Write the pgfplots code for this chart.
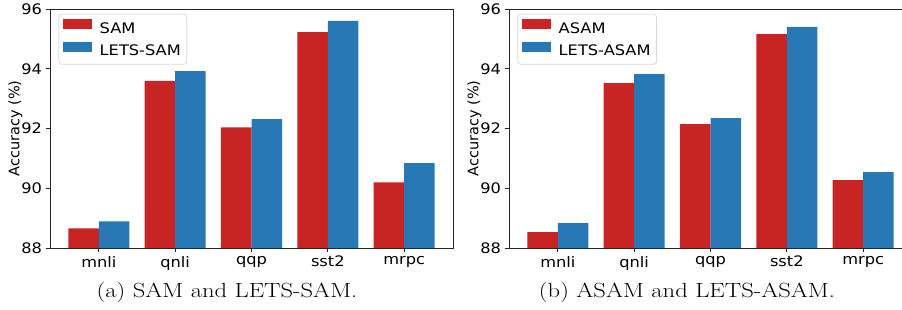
\documentclass[border=0pt]{standalone}
\usepackage{pgfplots}
\pgfplotsset{compat=1.18}
\usepackage{fontspec}
\newfontfamily\djv{DejaVu Sans}
\newfontfamily\djvw[FakeStretch=1.12]{DejaVu Sans}
\definecolor{cred}{HTML}{C82423}
\definecolor{cblue}{HTML}{2878B5}
\pgfplotsset{
  mybars/.style={
    scale only axis, width=403bp, height=239bp,
    ymin=88, ymax=96, ytick={88,90,...,96},
    xmin=-0.64, xmax=4.64,
    xtick={0,...,4}, xticklabels={mnli,qnli,qqp,sst2,mrpc},
    axis line style={black!85, line width=0.8pt},
    tick style={black!85, line width=0.8pt},
    major tick length=4.5bp,
    tick align=outside, xtick pos=bottom, ytick pos=left,
    font=\djvw\fontsize{14.5bp}{17bp}\selectfont,
    /pgf/number format/assume math mode=true,
    ylabel={Accuracy (\%)},
    ylabel style={font=\djv\fontsize{14.5bp}{17bp}\selectfont},
    ylabel shift=-8bp,
    legend cell align=left,
    legend style={at={(8.3bp,234.3bp)}, anchor=north west, draw=black!15, rounded corners=3bp, line width=0.8pt,
      inner xsep=4bp, inner ysep=5bp, row sep=5bp,
      /tikz/column 1/.style={column sep=6bp}},
    legend image code/.code={\fill[##1, sharp corners] (0bp,-0.5bp) rectangle (29bp,9.5bp);},
  },
}
\begin{document}
\begin{tikzpicture}
\path[use as bounding box] (0,0) rectangle (902bp,310bp);
\begin{axis}[mybars, at={(50bp,62bp)}, anchor=south west]
\addplot[ybar, bar width=0.4, bar shift=-0.2, fill=cred, draw=none] coordinates {(0,88.66) (1,93.59) (2,92.04) (3,95.23) (4,90.20)};
\addlegendentry{SAM}
\addplot[ybar, bar width=0.4, bar shift=0.2, fill=cblue, draw=none] coordinates {(0,88.89) (1,93.92) (2,92.31) (3,95.60) (4,90.84)};
\addlegendentry{LETS-SAM}
\end{axis}
\begin{axis}[mybars, at={(509bp,62bp)}, anchor=south west]
\addplot[ybar, bar width=0.4, bar shift=-0.2, fill=cred, draw=none] coordinates {(0,88.53) (1,93.52) (2,92.15) (3,95.16) (4,90.27)};
\addlegendentry{ASAM}
\addplot[ybar, bar width=0.4, bar shift=0.2, fill=cblue, draw=none] coordinates {(0,88.83) (1,93.82) (2,92.35) (3,95.40) (4,90.54)};
\addlegendentry{LETS-ASAM}
\end{axis}
\node[font=\fontsize{20.5bp}{25bp}\selectfont] at (227bp,18bp) {\scalebox{1.2}[1]{(a) SAM and LETS-SAM.}};
\node[font=\fontsize{20.5bp}{25bp}\selectfont] at (687bp,18bp) {\scalebox{1.2}[1]{(b) ASAM and LETS-ASAM.}};
\end{tikzpicture}
\end{document}
